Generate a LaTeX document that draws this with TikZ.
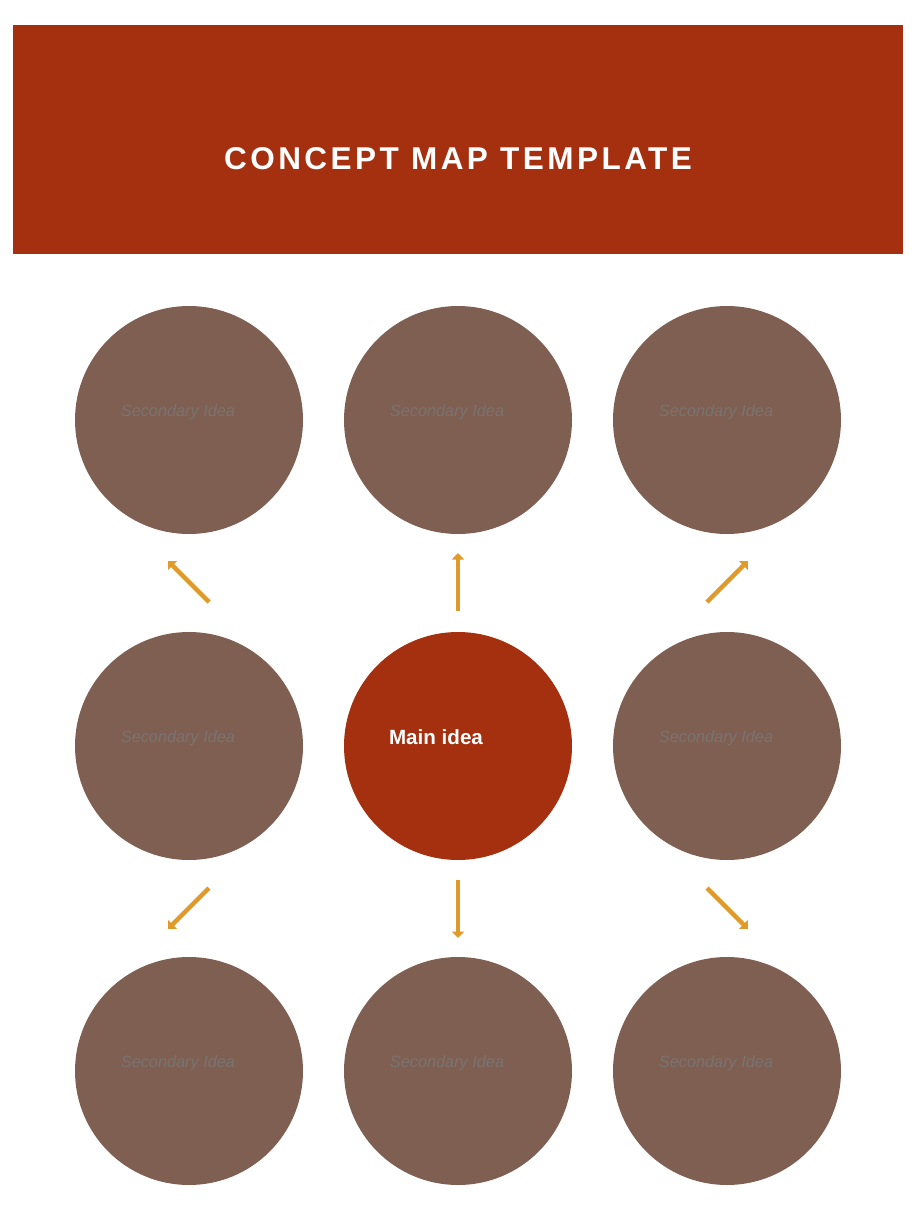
\documentclass[tikz,border=0pt]{standalone}
\usepackage{fontspec}
\setmainfont{Liberation Sans}
\usetikzlibrary{arrows.meta}
\definecolor{headred}{HTML}{A4300F}
\definecolor{bubblebrown}{HTML}{7F5F52}
\definecolor{ideagray}{HTML}{7A7370}
\definecolor{linkorange}{HTML}{E09A2A}
\tikzset{
  bubble/.style={circle, fill=bubblebrown, minimum size=228pt, inner sep=0pt},
  mainbubble/.style={bubble, fill=headred},
  idea/.style={text=ideagray, font=\fontsize{16.3}{19}\selectfont\itshape, inner sep=0pt},
  link/.style={draw=linkorange, line width=4.5pt, -{Triangle[width=12pt,length=6.5pt]}}
}
\begin{document}
\begin{tikzpicture}[x=1pt,y=-1pt]
  \useasboundingbox (0,0) rectangle (916,1221);
  \fill[headred] (13,25) rectangle (903,254);
  \node[text=white, inner sep=0pt,
        font=\fontsize{31.5}{36}\selectfont\bfseries\addfontfeature{LetterSpace=11}]
    (title) at (458,159) {CONCEPT MAP TEMPLATE};

  % circles
  \draw
    (189,420) node[bubble] (tl){}
    (458,420) node[bubble] (tc){}
    (727,420) node[bubble] (tr){}
    (189,746) node[bubble] (ml){}
    (458,746) node[mainbubble] (mc){}
    (727,746) node[bubble] (mr){}
    (189,1071) node[bubble] (bl){}
    (458,1071) node[bubble] (bc){}
    (727,1071) node[bubble] (br){};

  % labels
  \node[idea] (tl-t) at (178,412) {Secondary Idea};
  \node[idea] (tc-t) at (447,412) {Secondary Idea};
  \node[idea] (tr-t) at (716,412) {Secondary Idea};
  \node[idea] (ml-t) at (178,738) {Secondary Idea};
  \node[text=white, inner sep=0pt, font=\fontsize{20.6}{24}\selectfont\bfseries]
    (mc-t) at (436,737) {Main idea};
  \node[idea] (mr-t) at (716,738) {Secondary Idea};
  \node[idea] (bl-t) at (178,1063) {Secondary Idea};
  \node[idea] (bc-t) at (447,1063) {Secondary Idea};
  \node[idea] (br-t) at (716,1063) {Secondary Idea};

  % arrows
  \coordinate (a1) at (209,602); \coordinate (b1) at (168,561);
  \coordinate (a2) at (458,611); \coordinate (b2) at (458,553);
  \coordinate (a3) at (707,602); \coordinate (b3) at (748,561);
  \coordinate (a4) at (209,888); \coordinate (b4) at (168,929);
  \coordinate (a5) at (458,880); \coordinate (b5) at (458,938);
  \coordinate (a6) at (707,888); \coordinate (b6) at (748,929);
  \begin{scope}[link]
    \draw (a1) to (b1);
    \draw (a2) to (b2);
    \draw (a3) to (b3);
    \draw (a4) to (b4);
    \draw (a5) to (b5);
    \draw (a6) to (b6);
  \end{scope}
\end{tikzpicture}
\end{document}
